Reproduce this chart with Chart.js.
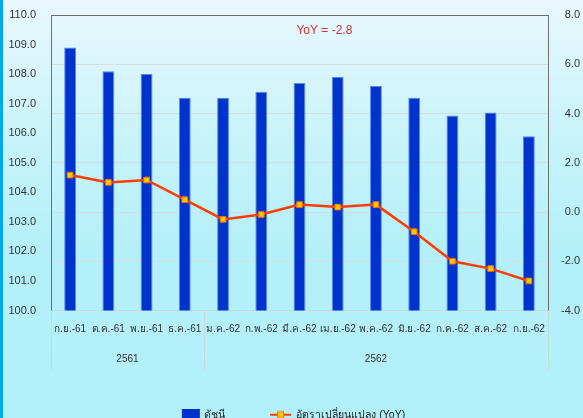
<!DOCTYPE html>
<html><head><meta charset="utf-8">
<script src="https://cdn.jsdelivr.net/npm/chart.js@4/dist/chart.umd.min.js"></script>
<style>
html,body{margin:0;padding:0;background:#b3f0f9;}
#wrap{position:relative;width:583px;height:418px;background:linear-gradient(to bottom,#e9f8fc 0%,#c6f3fa 35%,#b4f0f9 60%,#b2f0f9 100%);overflow:hidden;}
#stripe{position:absolute;left:0;top:0;width:3px;height:418px;background:#00a9ef;}
canvas{position:absolute;left:0;top:0;}
</style></head>
<body><div id="wrap"><canvas id="c" width="583" height="418"></canvas><div id="stripe"></div></div>
<script>
const months = ['ก.ย.-61','ต.ค.-61','พ.ย.-61','ธ.ค.-61','ม.ค.-62','ก.พ.-62','มี.ค.-62','เม.ย.-62','พ.ค.-62','มิ.ย.-62','ก.ค.-62','ส.ค.-62','ก.ย.-62'];
const years = ['2561','2562'];
const yearSpans = [4, 9];
const indexValues = [108.9, 108.1, 108.0, 107.2, 107.2, 107.4, 107.7, 107.9, 107.6, 107.2, 106.6, 106.7, 105.9];
const yoyValues = [1.5, 1.2, 1.3, 0.5, -0.3, -0.1, 0.3, 0.2, 0.3, -0.8, -2.0, -2.3, -2.8];
const seriesNames = ['ดัชนี', 'อัตราเปลี่ยนแปลง (YoY)'];
const leftAxis = {min: 100, max: 110, step: 1};
const rightAxis = {min: -4, max: 8, step: 2};

const FONT = 'Tahoma, "Liberation Sans", "DejaVu Sans", "Noto Sans", sans-serif';
const BAR = '#0033cc', LINE = '#ff3c00';

function makeIcon(w, h, draw){ const c=document.createElement('canvas'); c.width=w; c.height=h; draw(c.getContext('2d')); return c; }
const barIcon = makeIcon(30, 12, g=>{ g.fillStyle=BAR; g.fillRect(10,0,18,12); });
const lineIcon = makeIcon(30, 10, g=>{ g.strokeStyle=LINE; g.lineWidth=2; g.beginPath(); g.moveTo(6,5); g.lineTo(27,5); g.stroke();
  g.fillStyle='#ffcc00'; g.fillRect(13.5,2,6,6); g.strokeStyle='#ff6a00'; g.lineWidth=1; g.strokeRect(13.5,2,6,6); });

const decor = {
  id: 'decor',
  afterDraw(chart){
    const {ctx, chartArea: a, scales: {x}} = chart;
    ctx.save();
    ctx.strokeStyle = '#6b6f70'; ctx.lineWidth = 1;
    ctx.beginPath(); ctx.moveTo(a.left, a.top + 0.5); ctx.lineTo(a.right, a.top + 0.5); ctx.stroke();
    ctx.strokeStyle = '#c9dadd';
    const edges = [x.left];
    let idx = 0;
    yearSpans.forEach(n => { idx += n; edges.push(idx >= months.length ? x.right : (x.getPixelForTick(idx-1) + x.getPixelForTick(idx)) / 2); });
    edges.forEach(px => { const xx = Math.round(px) + 0.5; ctx.beginPath(); ctx.moveTo(xx, a.bottom); ctx.lineTo(xx, a.bottom + 60); ctx.stroke(); });
    ctx.fillStyle = '#333'; ctx.font = '10px ' + FONT; ctx.textAlign = 'center'; ctx.textBaseline = 'middle';
    years.forEach((y, i) => ctx.fillText(y, (edges[i] + edges[i+1]) / 2, a.bottom + 49));
    ctx.fillStyle = '#d03030'; ctx.font = '12px ' + FONT;
    ctx.fillText('YoY = ' + yoyValues[yoyValues.length-1].toFixed(1), a.left + (a.right - a.left) * 0.55, a.top + 16);
    ctx.restore();
  }
};

new Chart(document.getElementById('c'), {
  data: {
    labels: months,
    datasets: [
      {type: 'bar', label: seriesNames[0], data: indexValues, yAxisID: 'y', order: 2,
       backgroundColor: BAR, borderColor: '#5a86ee', borderWidth: 1,
       categoryPercentage: 1, barPercentage: 0.31},
      {type: 'line', label: seriesNames[1], data: yoyValues, yAxisID: 'y1', order: 1,
       borderColor: LINE, borderWidth: 2.5, tension: 0,
       pointStyle: 'rect', pointRadius: 4, pointBackgroundColor: '#ffcc00', pointBorderColor: '#ff6a00', pointBorderWidth: 1}
    ]
  },
  options: {
    responsive: false, animation: false, devicePixelRatio: 1,
    layout: {padding: {left: 0, right: 3, top: 15, bottom: -12}},
    plugins: {
      tooltip: {enabled: false},
      legend: {
        position: 'bottom',
        labels: {
          usePointStyle: true, pointStyleWidth: 24, padding: 42, color: '#222',
          font: {size: 10.5, family: FONT},
          generateLabels(chart){
            const items = Chart.defaults.plugins.legend.labels.generateLabels(chart);
            items.sort((p, q) => p.datasetIndex - q.datasetIndex);
            items.forEach(it => { it.pointStyle = it.datasetIndex === 0 ? barIcon : lineIcon; });
            return items;
          }
        }
      }
    },
    scales: {
      x: {
        grid: {display: false, drawTicks: false},
        border: {display: true, color: '#c9dadd'},
        ticks: {font: {size: 10, family: FONT}, color: '#333', padding: 13, maxRotation: 0, autoSkip: false},
        afterFit(s){ s.height = 57; }
      },
      y: {
        position: 'left', min: leftAxis.min, max: leftAxis.max,
        grid: {display: false, drawTicks: true, tickLength: 15},
        border: {display: true, color: '#6b6f70'},
        ticks: {stepSize: leftAxis.step, callback: v => v.toFixed(1), padding: 0, color: '#333', font: {size: 11, family: FONT}},
        afterFit(s){ s.width = 51; }
      },
      y1: {
        position: 'right', min: rightAxis.min, max: rightAxis.max,
        grid: {color: '#d2e0e3', drawTicks: false},
        border: {display: true, color: '#6b6f70'},
        ticks: {stepSize: rightAxis.step, callback: v => v.toFixed(1), padding: 0, crossAlign: 'far', color: '#333', font: {size: 11, family: FONT}},
        afterFit(s){ s.width = 32; }
      }
    }
  },
  plugins: [decor]
});
</script>
</body></html>
